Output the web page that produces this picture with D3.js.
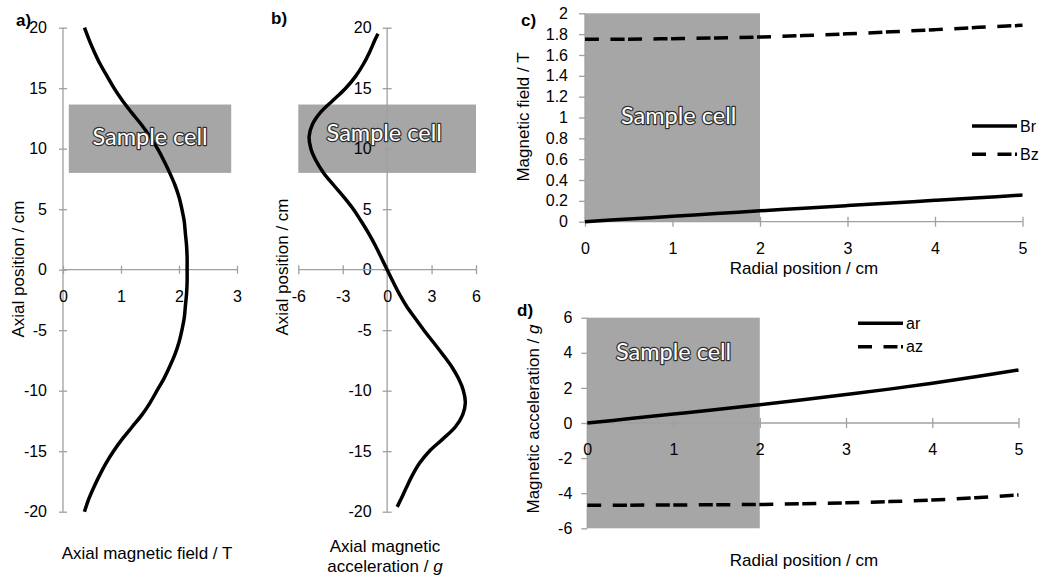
<!DOCTYPE html>
<html>
<head>
<meta charset="utf-8">
<script src="https://cdnjs.cloudflare.com/ajax/libs/d3/7.8.5/d3.min.js"></script>
<style>
  body { margin: 0; background: #fff; }
  svg { font-family: "Liberation Sans", Arial, sans-serif; }
  .axis path, .axis line { stroke: #a0a0a0; stroke-width: 1.3; }
  .axis text { fill: #000; font-size: 16px; font-family: "Liberation Sans", Arial, sans-serif; }
  .title { font-size: 17px; fill: #000; }
  .tag { font-size: 17px; font-weight: bold; fill: #000; }
  .legend { font-size: 16px; fill: #000; }
  .cell-label { font-family: Lato, "Open Sans", sans-serif; font-size: 23.5px; fill: #fff;
                stroke: #2e2e2e; stroke-width: 2.4; stroke-linejoin: round; paint-order: stroke;
                text-anchor: middle; }
  .curve { fill: none; stroke: #000; stroke-width: 3.5; }
</style>
</head>
<body>
<svg id="chart" width="1044" height="580"></svg>
<script>
// ---- data ----
// a) axial field along the axis
var zField = [20, 19, 18, 17, 16, 15, 14, 13, 12, 11, 10, 9, 8, 7, 6, 5, 4, 3, 2, 1, 0,
  -1, -2, -3, -4, -5, -6, -7, -8, -9, -10, -11, -12, -13, -14, -15, -16, -17, -18, -19, -20];
var axialField = [0.37, 0.45, 0.54, 0.64, 0.76, 0.88, 1.02, 1.18, 1.35, 1.5, 1.63, 1.74, 1.84, 1.93, 2.0, 2.05, 2.09, 2.11, 2.13, 2.14, 2.14,
  2.14, 2.13, 2.11, 2.09, 2.05, 2.0, 1.93, 1.84, 1.74, 1.62, 1.5, 1.36, 1.19, 1.02, 0.87, 0.74, 0.63, 0.53, 0.44, 0.37];

// b) axial magnetic acceleration along the axis
var zAccel = [19.5, 19, 18, 17, 16, 15, 14, 13, 12, 11, 10, 9, 8, 7, 6, 5, 4, 3, 2, 1, 0,
  -1, -2, -3, -4, -5, -6, -7, -8, -9, -10, -11, -12, -13, -14, -15, -16, -17, -18, -19, -19.6];
var axialAccel = [-0.62, -0.82, -1.18, -1.6, -2.12, -2.8, -3.65, -4.5, -5.05, -5.27, -5.15, -4.8, -4.29, -3.62, -2.92, -2.28, -1.75, -1.25, -0.8, -0.4, 0.0,
  0.4, 0.82, 1.3, 1.88, 2.48, 3.12, 3.75, 4.35, 4.82, 5.15, 5.28, 5.1, 4.6, 3.75, 2.85, 2.18, 1.7, 1.3, 0.92, 0.68];

// c) and d) radial profiles
var radial = [0, 0.5, 1, 1.5, 2, 2.5, 3, 3.5, 4, 4.5, 5];
var Br = [0, 0.026, 0.052, 0.078, 0.104, 0.13, 0.155, 0.18, 0.205, 0.23, 0.256];
var Bz = [1.75, 1.752, 1.756, 1.763, 1.772, 1.786, 1.803, 1.822, 1.843, 1.865, 1.885];
var ar = [0, 0.25, 0.51, 0.77, 1.04, 1.32, 1.62, 1.93, 2.27, 2.63, 3.02];
var az = [-4.68, -4.68, -4.67, -4.66, -4.64, -4.6, -4.55, -4.48, -4.39, -4.26, -4.1];

// sample cell extents
var cellZ = [8, 13.65];
var cellFieldX = [0.1, 2.9];
var cellR = [0, 2];

// tick labels
var ticksZ = [-20, -15, -10, -5, 0, 5, 10, 15, 20];
var ticksFieldA = [0, 1, 2, 3];
var ticksAccelB = [-6, -3, 0, 3, 6];
var ticksRadial = [0, 1, 2, 3, 4, 5];
var ticksFieldC = [0, 0.2, 0.4, 0.6, 0.8, 1, 1.2, 1.4, 1.6, 1.8, 2];
var ticksAccelD = [-6, -4, -2, 0, 2, 4, 6];

var dashes = "14,11.5,14,3.5";
var fmt = d => String(+d.toFixed(1));

var svg = d3.select("#chart");

// helper: vertical axis with ticks crossing (or not) the line
function yAxis(g, scale, ticks, inner, outer, pad) {
  g.attr("class", "axis")
    .call(d3.axisLeft(scale).tickValues(ticks).tickSize(outer).tickSizeOuter(0).tickPadding(pad).tickFormat(fmt));
  g.selectAll(".tick line").attr("x1", inner);
  g.select(".domain").attr("d", "M0," + scale.range()[0] + "V" + scale.range()[1]);
}
function xAxis(g, scale, ticks, cross, pad) {
  g.attr("class", "axis")
    .call(d3.axisBottom(scale).tickValues(ticks).tickSize(cross).tickSizeOuter(0).tickPadding(pad).tickFormat(fmt));
  g.selectAll(".tick line").attr("y1", -cross);
  g.select(".domain").attr("d", "M" + scale.range()[0] + ",0H" + scale.range()[1]);
}
function cellLabel(x, y) {
  svg.append("text").attr("class", "cell-label")
    .attr("x", x).attr("y", y).attr("dy", "0.36em")
    .text("Sample cell");
}

// ================= a) =================
var xA = d3.scaleLinear().domain([0, 3]).range([63, 237]);
var yZ = d3.scaleLinear().domain([-20, 20]).range([511.7, 27.7]);

svg.append("rect")
  .attr("x", xA(cellFieldX[0])).attr("y", yZ(cellZ[1]))
  .attr("width", xA(cellFieldX[1]) - xA(cellFieldX[0]))
  .attr("height", yZ(cellZ[0]) - yZ(cellZ[1]))
  .attr("fill", "#a6a6a6");

svg.append("g").attr("transform", `translate(${xA(0)},0)`)
  .call(g => yAxis(g, yZ, ticksZ, 4, 4, 12));
svg.append("g").attr("transform", `translate(0,${yZ(0)})`)
  .call(g => xAxis(g, xA, ticksFieldA, 4, 17));

var dataA = zField.map((z, i) => ({ z: z, v: axialField[i] }));
svg.append("path").datum(dataA).attr("class", "curve")
  .attr("d", d3.line().x(d => xA(d.v)).y(d => yZ(d.z)).curve(d3.curveCatmullRom.alpha(0.5)));

cellLabel(xA(1.5), yZ(11));

svg.append("text").attr("class", "tag").attr("x", 16).attr("y", 26).text("a)");
svg.append("text").attr("class", "title")
  .attr("transform", "translate(24,269) rotate(-90)").attr("text-anchor", "middle")
  .text("Axial position / cm");
svg.append("text").attr("class", "title").attr("x", 147).attr("y", 559)
  .attr("text-anchor", "middle").text("Axial magnetic field / T");

// ================= b) =================
var xB = d3.scaleLinear().domain([-6, 6]).range([298.3, 476]);

svg.append("rect")
  .attr("x", xB(-6)).attr("y", yZ(cellZ[1]))
  .attr("width", xB(6) - xB(-6))
  .attr("height", yZ(cellZ[0]) - yZ(cellZ[1]))
  .attr("fill", "#a6a6a6");

svg.append("g").attr("transform", `translate(${xB(0)},0)`)
  .call(g => yAxis(g, yZ, ticksZ, 4.5, 4.5, 11));
svg.append("g").attr("transform", `translate(0,${yZ(0)})`)
  .call(g => xAxis(g, xB, ticksAccelB, 4.5, 16.5));

var dataB = zAccel.map((z, i) => ({ z: z, v: axialAccel[i] }));
svg.append("path").datum(dataB).attr("class", "curve")
  .attr("d", d3.line().x(d => xB(d.v)).y(d => yZ(d.z)).curve(d3.curveCatmullRom.alpha(0.5)));

cellLabel(xB(-0.2), yZ(11.3));

svg.append("text").attr("class", "tag").attr("x", 271).attr("y", 24).text("b)");
svg.append("text").attr("class", "title")
  .attr("transform", "translate(288,267) rotate(-90)").attr("text-anchor", "middle")
  .text("Axial position / cm");
svg.append("text").attr("class", "title").attr("x", 385).attr("y", 552)
  .attr("text-anchor", "middle").text("Axial magnetic");
var tB = svg.append("text").attr("class", "title").attr("x", 385).attr("y", 572)
  .attr("text-anchor", "middle");
tB.append("tspan").text("acceleration / ");
tB.append("tspan").attr("font-style", "italic").text("g");

// ================= c) =================
var xC = d3.scaleLinear().domain([0, 5]).range([585, 1022.5]);
var yC = d3.scaleLinear().domain([0, 2]).range([221.7, 13.3]);

svg.append("rect")
  .attr("x", xC(cellR[0])).attr("y", yC(2))
  .attr("width", xC(cellR[1]) - xC(cellR[0]))
  .attr("height", yC(0) - yC(2))
  .attr("fill", "#a6a6a6");

svg.append("g").attr("transform", `translate(${xC(0)},0)`)
  .call(g => yAxis(g, yC, ticksFieldC, 0, 6, 11));
svg.append("g").attr("transform", `translate(0,${yC(0)})`)
  .call(g => xAxis(g, xC, ticksRadial, 5, 15.5));

var lineC = key => d3.line().x((d, i) => xC(radial[i])).y(d => yC(d)).curve(d3.curveCatmullRom)(key);
svg.append("path").attr("class", "curve").attr("d", lineC(Br));
svg.append("path").attr("class", "curve").attr("stroke-dasharray", dashes).attr("d", lineC(Bz));

cellLabel(xC(1.07), yC(1.02));

// legend c
var legC = [{ name: "Br", dash: null, y: 126 }, { name: "Bz", dash: dashes, y: 154.3 }];
legC.forEach(function(l) {
  svg.append("line").attr("class", "curve").attr("x1", 972).attr("x2", 1017)
    .attr("y1", l.y).attr("y2", l.y).attr("stroke-dasharray", l.dash);
  svg.append("text").attr("class", "legend").attr("x", 1020).attr("y", l.y).attr("dy", "0.35em").text(l.name);
});

svg.append("text").attr("class", "tag").attr("x", 521).attr("y", 26).text("c)");
svg.append("text").attr("class", "title")
  .attr("transform", "translate(529,117) rotate(-90)").attr("text-anchor", "middle")
  .text("Magnetic field / T");
svg.append("text").attr("class", "title").attr("x", 804).attr("y", 274)
  .attr("text-anchor", "middle").text("Radial position / cm");

// ================= d) =================
var xD = d3.scaleLinear().domain([0, 5]).range([587.3, 1018.5]);
var yD = d3.scaleLinear().domain([-6, 6]).range([528.3, 317.7]);

svg.append("rect")
  .attr("x", xD(cellR[0])).attr("y", yD(6))
  .attr("width", xD(cellR[1]) - xD(cellR[0]))
  .attr("height", yD(-6) - yD(6))
  .attr("fill", "#a6a6a6");

svg.append("g").attr("transform", `translate(${xD(0)},0)`)
  .call(g => yAxis(g, yD, ticksAccelD, 0, 6, 9));
svg.append("g").attr("transform", `translate(0,${yD(0)})`)
  .call(g => xAxis(g, xD, ticksRadial, 5, 16));

var lineD = key => d3.line().x((d, i) => xD(radial[i])).y(d => yD(d)).curve(d3.curveCatmullRom)(key);
svg.append("path").attr("class", "curve").attr("d", lineD(ar));
svg.append("path").attr("class", "curve").attr("stroke-dasharray", dashes).attr("d", lineD(az));

cellLabel(xD(1.0), yD(4.05));

// legend d
var legD = [{ name: "ar", dash: null, y: 323.3 }, { name: "az", dash: dashes, y: 346.7 }];
legD.forEach(function(l) {
  svg.append("line").attr("class", "curve").attr("x1", 858).attr("x2", 903)
    .attr("y1", l.y).attr("y2", l.y).attr("stroke-dasharray", l.dash);
  svg.append("text").attr("class", "legend").attr("x", 906).attr("y", l.y).attr("dy", "0.35em").text(l.name);
});

svg.append("text").attr("class", "tag").attr("x", 517).attr("y", 316).text("d)");
var tD = svg.append("text").attr("class", "title")
  .attr("transform", "translate(539,419) rotate(-90)").attr("text-anchor", "middle");
tD.append("tspan").text("Magnetic acceleration / ");
tD.append("tspan").attr("font-style", "italic").text("g");
svg.append("text").attr("class", "title").attr("x", 804).attr("y", 566)
  .attr("text-anchor", "middle").text("Radial position / cm");
</script>
</body>
</html>
